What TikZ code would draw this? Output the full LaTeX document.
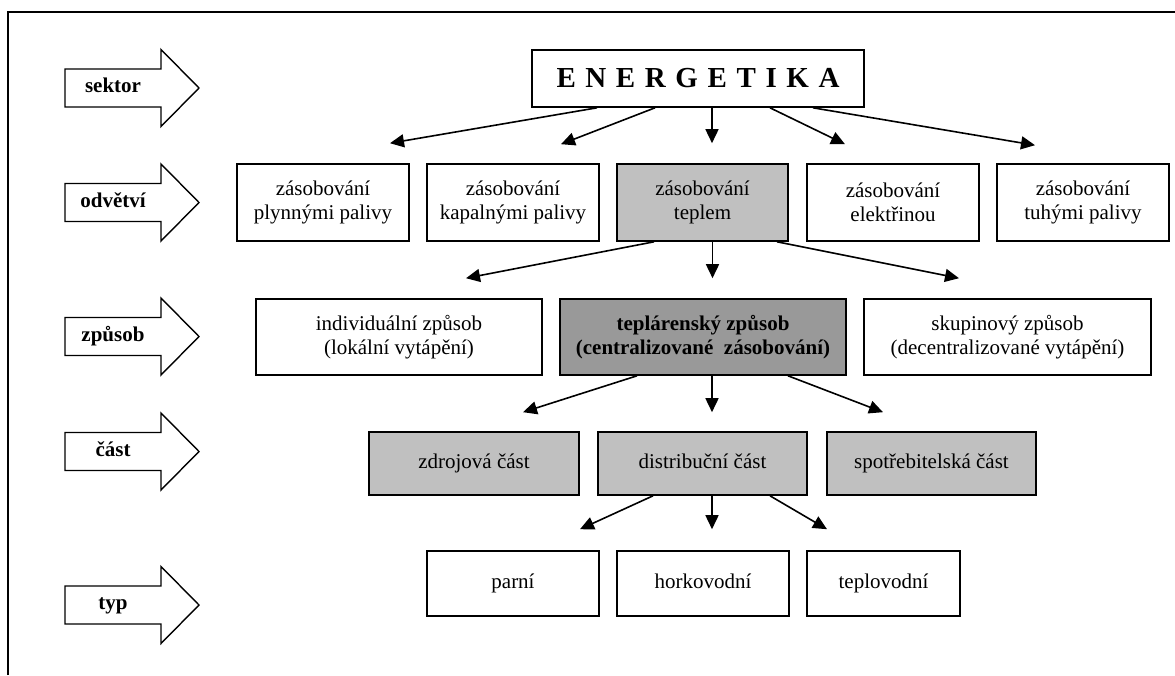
\documentclass[tikz,border=0pt]{standalone}
\usepackage{fontspec}
\setmainfont{Liberation Serif}
\usetikzlibrary{arrows.meta}
\definecolor{lightgr}{HTML}{C0C0C0}
\definecolor{darkgr}{HTML}{999999}
\tikzset{
  box/.style={draw, line width=1.6pt, inner sep=0pt, align=center, fill=white,
    font=\fontsize{21}{24}\selectfont},
  onebox/.style={box, text height=14pt, text depth=5pt},
  conn/.style={line width=1.6pt, -{Triangle[length=14pt,width=13pt]}},
  blockarrow/.style={draw, line width=1.4pt, fill=white, line join=miter},
  lvllabel/.style={font=\bfseries\fontsize{21}{24}\selectfont, inner sep=0pt,
    text height=14pt, text depth=5pt},
  frameline/.style={line width=1.5pt}
}
\newcommand\lvlarrow[3]{%
  \draw[blockarrow] (65,{#2-19}) -- (161,{#2-19}) -- (161,{#2-38.5}) -- (199,#2)
    -- (161,{#2+38.5}) -- (161,{#2+19}) -- (65,{#2+19}) -- cycle;
  \node[lvllabel] (#1) at (113,#2) {#3};}
\begin{document}
\begin{tikzpicture}[x=1pt,y=-1pt]
\useasboundingbox (0,0) rectangle (1175,675);
\draw[frameline] (8,675) -- (8,12) -- (1175,12);

% level arrows
\lvlarrow{lsektor}{88}{sektor}
\lvlarrow{lodvetvi}{202.5}{odvětví}
\lvlarrow{lzpusob}{336.5}{způsob}
\lvlarrow{lcast}{451.5}{část}
\lvlarrow{ltyp}{605}{typ}

% top
\node[box, minimum width=332pt, minimum height=57pt,
      font=\bfseries\fontsize{29}{34}\selectfont] (ener) at (698,78.5)
  {E\hskip9.6pt N\hskip9.6pt E\hskip9.6pt R\hskip9.6pt G\hskip9.6pt E\hskip9.6pt T\hskip9.6pt I\hskip9.6pt K\hskip9.6pt A};

% row 2
\node[box, minimum width=172pt, minimum height=77pt] (plyn) at (323,202.5) {zásobování\\plynnými palivy};
\node[box, minimum width=172pt, minimum height=77pt] (kapal) at (513,202.5) {zásobování\\kapalnými palivy};
\node[box, fill=lightgr, minimum width=171pt, minimum height=77pt] (teplem) at (702.5,202.5) {zásobování\\teplem};
\node[box, minimum width=172pt, minimum height=77pt] (elek) at (893,202.5) {zásobování\\elektřinou};
\node[box, minimum width=172pt, minimum height=77pt] (tuhy) at (1083,202.5) {zásobování\\tuhými palivy};

% row 3
\node[box, minimum width=286pt, minimum height=76pt] (indiv) at (399,337) {individuální způsob\\(lokální vytápění)};
\node[box, fill=darkgr, minimum width=286pt, minimum height=76pt, font=\bfseries\fontsize{21}{24}\selectfont] (tepl) at (703,337) {teplárenský způsob\\(centralizované~ zásobování)};
\node[box, minimum width=287pt, minimum height=76pt] (skup) at (1007.5,337) {skupinový způsob\\(decentralizované vytápění)};

% row 4
\node[onebox, fill=lightgr, minimum width=210pt, minimum height=63pt] (zdroj) at (474,463.5) {zdrojová část};
\node[onebox, fill=lightgr, minimum width=209pt, minimum height=63pt] (distr) at (702.5,463.5) {distribuční část};
\node[onebox, fill=lightgr, minimum width=209pt, minimum height=63pt] (spotr) at (931.5,463.5) {spotřebitelská část};

% row 5
\node[onebox, minimum width=172pt, minimum height=65pt] (parni) at (513,583.5) {parní};
\node[onebox, minimum width=172pt, minimum height=65pt] (hork) at (703,583.5) {horkovodní};
\node[onebox, minimum width=153pt, minimum height=65pt] (teplo) at (883.5,583.5) {teplovodní};

% connectors
\draw[conn] ([xshift=-101pt]ener.south) -- ([xshift=67pt,yshift=20pt]plyn.north);
\draw[conn] ([xshift=-43pt]ener.south) -- ([xshift=48pt,yshift=19pt]kapal.north);
\draw[conn] ([xshift=14pt]ener.south) -- ([xshift=9.5pt,yshift=20pt]teplem.north);
\draw[conn] ([xshift=72pt]ener.south) -- ([xshift=-48pt,yshift=19pt]elek.north);
\draw[conn] ([xshift=115pt]ener.south) -- ([xshift=-48pt,yshift=18pt]tuhy.north);

\draw[conn] ([xshift=-48.5pt]teplem.south) -- ([xshift=67pt,yshift=20pt]indiv.north);
\draw[conn] ([xshift=10pt]teplem.south) -- ([xshift=9.5pt,yshift=20pt]tepl.north);
\draw[conn] ([xshift=74.5pt]teplem.south) -- ([xshift=-48.5pt,yshift=20pt]skup.north);

\draw[conn] ([xshift=-66pt]tepl.south) -- ([xshift=49pt,yshift=19pt]zdroj.north);
\draw[conn] ([xshift=9pt]tepl.south) -- ([xshift=9.5pt,yshift=19pt]distr.north);
\draw[conn] ([xshift=85pt]tepl.south) -- ([xshift=-48.5pt,yshift=19pt]spotr.north);

\draw[conn] ([xshift=-49.5pt]distr.south) -- ([xshift=67pt,yshift=21pt]parni.north);
\draw[conn] ([xshift=9.5pt]distr.south) -- ([xshift=9pt,yshift=21pt]hork.north);
\draw[conn] ([xshift=67.5pt]distr.south) -- ([xshift=-56.5pt,yshift=21pt]teplo.north);
\end{tikzpicture}
\end{document}
